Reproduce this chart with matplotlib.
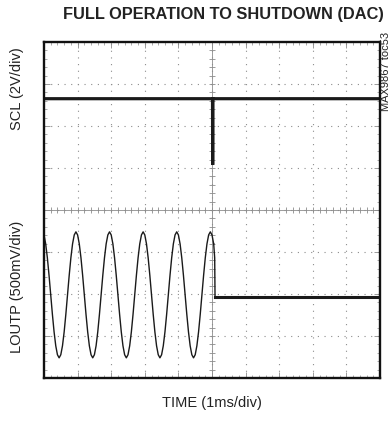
import matplotlib
matplotlib.use("Agg")

import matplotlib.pyplot as plt
import numpy as np

# ── scope settings ────────────────────────────────────────────────────────────
MS_PER_DIV   = 1.0
SCL_V_DIV    = 2.0      # V/div
SCL_POS      = 1.0      # div, ground marker of SCL channel
LOUTP_MV_DIV = 500.0    # mV/div
LOUTP_POS    = -2.02    # div, zero of LOUTP channel

# ── traces ────────────────────────────────────────────────────────────────────
# SCL: high at 3.3 V, one short low pulse at the shutdown command
scl_t = [0.0, 5.015, 5.02, 5.025, 10.0]
scl_v = [3.3, 3.3, 0.15, 3.3, 3.3]

# LOUTP: 1kHz tone sampled every 0.05 ms until shutdown
loutp_t = np.round(np.arange(0.0, 5.06, 0.05), 2)
loutp_mv = [
    713, 607, 441, 232, 0, -232, -441, -607, -713, -750,
    -713, -607, -441, -232, 0, 232, 441, 607, 713, 750,
    713, 607, 441, 232, 0, -232, -441, -607, -713, -750,
    -713, -607, -441, -232, 0, 232, 441, 607, 713, 750,
    713, 607, 441, 232, 0, -232, -441, -607, -713, -750,
    -713, -607, -441, -232, 0, 232, 441, 607, 713, 750,
    713, 607, 441, 232, 0, -232, -441, -607, -713, -750,
    -713, -607, -441, -232, 0, 232, 441, 607, 713, 750,
    713, 607, 441, 232, 0, -232, -441, -607, -713, -750,
    -713, -607, -441, -232, 0, 232, 441, 607, 713, 750,
    713, 607,
]
# cut-off edge and the muted output after shutdown
drop_t  = [5.05, 5.08, 5.09]
drop_mv = [607, 440, -20]
off_t   = [5.09, 10.0]
off_mv  = [-20, -20]

TRACE = "#1a1a1a"
GRID  = "#8c8c8c"
TEXT  = "#222222"
SANS  = ["Liberation Sans", "DejaVu Sans"]

fig = plt.figure(figsize=(3.92, 4.24), dpi=100)
ax = fig.add_axes([44 / 392, 1 - 378 / 424, 336 / 392, 336 / 424])


def scl_div(v):
    return np.asarray(v) / SCL_V_DIV + SCL_POS


def loutp_div(mv):
    return np.asarray(mv) / LOUTP_MV_DIV + LOUTP_POS


def t_div(t):
    return np.asarray(t) / MS_PER_DIV


# graticule
ax.set_xlim(0, 10)
ax.set_ylim(-4, 4)
ax.set_xticks(np.arange(1, 10))
ax.set_yticks(np.arange(-3, 4))
ax.set_xticks(np.arange(0, 10.01, 0.2), minor=True)
ax.set_yticks(np.arange(-4, 4.01, 0.2), minor=True)
ax.tick_params(which="both", direction="in", top=True, right=True,
               labelbottom=False, labelleft=False, color=GRID)
ax.tick_params(which="major", length=4, width=0.6)
ax.tick_params(which="minor", length=2.5, width=0.5)
ax.grid(which="major", color=GRID, linestyle=(0, (1, 5)), linewidth=0.8)
for s in ax.spines.values():
    s.set_linewidth(1.7)
    s.set_color("#111111")

# centre cross with sub-division marks
cx = np.arange(0, 10.01, 0.2)
cy = np.arange(-4, 4.01, 0.2)
ax.plot(cx, np.zeros_like(cx), color=GRID, lw=0.6, marker="|", ms=4, mew=0.6)
ax.plot(np.full_like(cy, 5.0), cy, color=GRID, lw=0.6, marker="_", ms=4, mew=0.6)

# traces
ax.plot(t_div(scl_t), scl_div(scl_v), color=TRACE, lw=2.3, solid_joinstyle="miter")
ax.plot(t_div(loutp_t), loutp_div(loutp_mv), color=TRACE, lw=1.0)
ax.plot(t_div(drop_t), loutp_div(drop_mv), color=TRACE, lw=1.0)
ax.plot(t_div(off_t), loutp_div(off_mv), color=TRACE, lw=2.2)

# labels
fig.text(223 / 392, 1 - 14 / 424, "FULL OPERATION TO SHUTDOWN (DAC)",
         ha="center", va="center", fontsize=11.8, fontweight="bold",
         family=SANS, color=TEXT)
fig.text(212 / 392, 1 - 403 / 424, "TIME (1ms/div)", ha="center", va="center",
         fontsize=10.5, family=SANS, color=TEXT)
fig.text(17 / 392, 1 - 89 / 424, "SCL (2V/div)", ha="center", va="center",
         rotation=90, fontsize=10.5, family=SANS, color=TEXT)
fig.text(17 / 392, 1 - 287 / 424, "LOUTP (500mV/div)", ha="center", va="center",
         rotation=90, fontsize=10.5, family=SANS, color=TEXT)
fig.text(386 / 392, 1 - 32 / 424, "MAX9867 toc53", ha="center", va="top",
         rotation=90, fontsize=8, family=SANS, color=TEXT)

fig.savefig("out.png", dpi=100, facecolor="white")
